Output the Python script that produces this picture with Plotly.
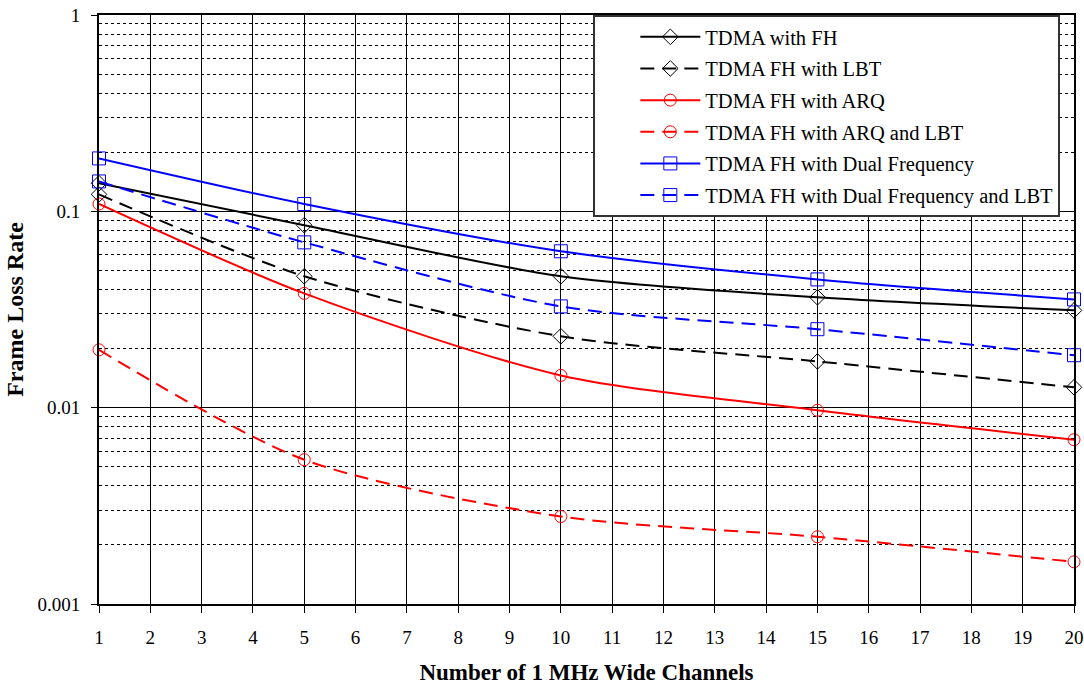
import plotly.graph_objects as go

channels = [1, 5, 10, 15, 20]
fh = [0.139, 0.085, 0.0467, 0.0365, 0.0313]
fh_lbt = [0.122, 0.0467, 0.0231, 0.0172, 0.0127]
fh_arq = [0.109, 0.0382, 0.0146, 0.0097, 0.00687]
fh_arq_lbt = [0.0197, 0.00543, 0.00279, 0.0022, 0.00164]
fh_dual = [0.186, 0.109, 0.0626, 0.045, 0.0356]
fh_dual_lbt = [0.142, 0.0695, 0.0328, 0.0251, 0.0185]

series_names = [
    "TDMA with FH",
    "TDMA FH with LBT",
    "TDMA FH with ARQ",
    "TDMA FH with ARQ and LBT",
    "TDMA FH with Dual Frequency",
    "TDMA FH with Dual Frequency and LBT",
]
x_ticks = list(range(1, 21))
y_tickvals = [0.001, 0.01, 0.1, 1]
y_ticktext = ["0.001", "0.01", "0.1", "1"]

series = [fh, fh_lbt, fh_arq, fh_arq_lbt, fh_dual, fh_dual_lbt]
styles = [
    ("black", "solid", "diamond-open", 12),
    ("black", "14px,8px", "diamond-open", 12),
    ("#ff0000", "solid", "circle-open", 12),
    ("#ff0000", "14px,8px", "circle-open", 12),
    ("#0000ff", "solid", "square-open", 13),
    ("#0000ff", "14px,8px", "square-open", 13),
]

fig = go.Figure()
for i, (name, vals, st) in enumerate(zip(series_names, series, styles)):
    color, dash, sym, size = st
    fig.add_trace(go.Scatter(
        x=channels, y=vals, name=name, mode="lines+markers",
        line=dict(color=color, width=2, dash=dash, shape="spline", smoothing=0.8),
        marker=dict(symbol=sym, size=size, color=color, line=dict(width=1, color=color)),
        legendgroup=f"g{i}", cliponaxis=False,
    ))

font_family = "Liberation Serif, Times New Roman, serif"
fig.update_layout(
    width=1084, height=685,
    margin=dict(l=99, r=10, t=15, b=81),
    paper_bgcolor="white", plot_bgcolor="white",
    font=dict(family=font_family, color="black", size=19),
    showlegend=True,
    legend=dict(
        x=0.507, y=1.0, xanchor="left", yanchor="top",
        bgcolor="white", bordercolor="#333333", borderwidth=2,
        font=dict(family=font_family, size=20.5, color="black"),
        tracegroupgap=2, itemwidth=60, indentation=40,
    ),
    xaxis=dict(
        range=[1, 20], tickvals=x_ticks, ticktext=[str(v) for v in x_ticks],
        showgrid=True, gridcolor="black", gridwidth=1,
        showline=True, linecolor="black", linewidth=2, mirror=True,
        ticks="outside", ticklen=7, tickcolor="black",
        ticklabelstandoff=8, automargin=False,
        zeroline=False,
        title=dict(text="<b>Number of 1 MHz Wide Channels</b>", font=dict(size=23), standoff=20),
    ),
    yaxis=dict(
        type="log", range=[-3, 0], tickvals=y_tickvals, ticktext=y_ticktext,
        showgrid=True, gridcolor="black", gridwidth=1,
        showline=True, linecolor="black", linewidth=2, mirror=True,
        ticks="outside", ticklen=6, tickcolor="black",
        ticklabelstandoff=7, automargin=False,
        minor=dict(dtick="D1", showgrid=True, gridcolor="black", griddash="3px,3px", gridwidth=1, ticks=""),
        title=dict(text="<b>Frame Loss Rate</b>", font=dict(size=24), standoff=7),
    ),
)

fig.write_html(
    "out.html",
    config={"displayModeBar": False},
    post_script="document.body.style.margin='0';document.body.style.padding='0';",
)
